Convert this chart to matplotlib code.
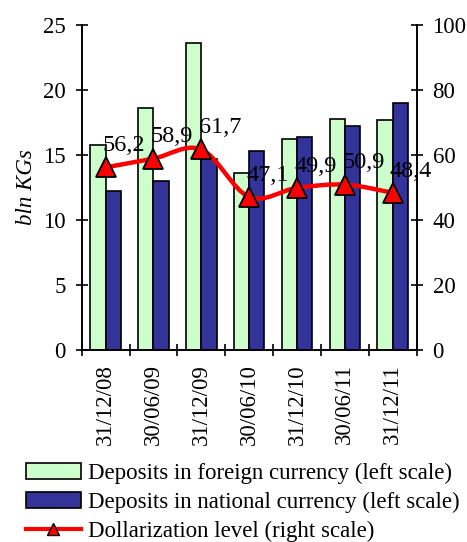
import matplotlib
matplotlib.use("Agg")
import matplotlib.pyplot as plt
import numpy as np
from matplotlib.path import Path
from matplotlib.patches import PathPatch, Patch
from matplotlib.lines import Line2D

categories = ["31/12/08", "30/06/09", "31/12/09", "30/06/10", "31/12/10", "30/06/11", "31/12/11"]
foreign = [15.8, 18.6, 23.6, 13.6, 16.2, 17.8, 17.7]
national = [12.2, 13.0, 14.7, 15.3, 16.4, 17.2, 19.0]
dollarization = [56.2, 58.9, 61.7, 47.1, 49.9, 50.9, 48.4]
left_ticks = [0, 5, 10, 15, 20, 25]
right_ticks = [0, 20, 40, 60, 80, 100]

plt.rcParams['font.family'] = ['Liberation Serif', 'DejaVu Serif']
FS = 16.5

fig = plt.figure(figsize=(4.67, 5.42), dpi=100)
ax = fig.add_axes([0.175, 0.354, 0.717, 0.600])
ax2 = ax.twinx()

x = np.arange(len(categories))
w = 0.32
ax.bar(x - w / 2, foreign, width=w, color="#CCFFCC", edgecolor="black", linewidth=1.2, zorder=2)
ax.bar(x + w / 2, national, width=w, color="#333399", edgecolor="black", linewidth=1.2, zorder=2)

ax.set_xlim(-0.5, len(categories) - 0.5)
ax.set_ylim(0, 25)
ax.set_yticks(left_ticks)
ax.set_yticklabels([str(t) for t in left_ticks], fontsize=FS)
ax.set_xticks(np.arange(len(categories) + 1) - 0.5, minor=False)
ax.set_xticklabels([])
ax.set_xticks(x, minor=True)
ax.set_xticklabels(categories, minor=True, rotation=90, fontsize=FS)
ax.tick_params(axis='x', which='major', direction='inout', length=9, width=1.2)
ax.tick_params(axis='x', which='minor', length=0, pad=10)
ax.tick_params(axis='y', direction='inout', length=9, width=1.2, pad=7)
ax.set_ylabel("bln KGs", fontsize=FS, fontstyle='italic', labelpad=4)

for sp in ['top']:
    ax.spines[sp].set_visible(False)
    ax2.spines[sp].set_visible(False)
for sp in ['left', 'bottom', 'right']:
    ax.spines[sp].set_linewidth(1.2)
    ax2.spines[sp].set_linewidth(1.2)

ax2.set_ylim(0, 100)
ax2.set_yticks(right_ticks)
ax2.set_yticklabels([str(t) for t in right_ticks], fontsize=FS)
ax2.tick_params(axis='y', direction='inout', length=9, width=1.2, pad=7)

# smoothed line (Catmull-Rom bezier through data points)
pts = np.column_stack([x, dollarization]).astype(float)
verts = [tuple(pts[0])]
codes = [Path.MOVETO]
n = len(pts)
for i in range(n - 1):
    p0 = pts[max(i - 1, 0)]
    p1 = pts[i]
    p2 = pts[i + 1]
    p3 = pts[min(i + 2, n - 1)]
    c1 = p1 + (p2 - p0) / 6.0
    c2 = p2 - (p3 - p1) / 6.0
    verts += [tuple(c1), tuple(c2), tuple(p2)]
    codes += [Path.CURVE4] * 3
ax2.add_patch(PathPatch(Path(verts, codes), facecolor='none', edgecolor='#FF0000', linewidth=3.2, zorder=3))
ax2.plot(x, dollarization, linestyle='none', marker='^', markersize=15, markerfacecolor='#FF0000',
         markeredgecolor='black', markeredgewidth=1.3, zorder=4)
for xi, v in zip(x, dollarization):
    ax2.annotate(f"{v:.1f}".replace('.', ','), (xi, v), xytext=(-2, 8), textcoords='offset points',
                 ha='left', va='bottom', fontsize=17.5, zorder=5)

handles = [
    Patch(facecolor="#CCFFCC", edgecolor="black", linewidth=1.2),
    Patch(facecolor="#333399", edgecolor="black", linewidth=1.2),
    Line2D([0], [0], color='#FF0000', linewidth=3, marker='^', markersize=8,
           markerfacecolor='#FF0000', markeredgecolor='black', markeredgewidth=1),
]
labels = ["Deposits in foreign currency (left scale)",
          "Deposits in national currency (left scale)",
          "Dollarization level (right scale)"]
fig.legend(handles, labels, loc='upper left', bbox_to_anchor=(0.055, 0.146), frameon=False,
           fontsize=FS, handlelength=2.4, handleheight=0.65, handletextpad=0.3, labelspacing=0.34,
           borderaxespad=0, borderpad=0, numpoints=1)

fig.savefig("out.png", dpi=100)
